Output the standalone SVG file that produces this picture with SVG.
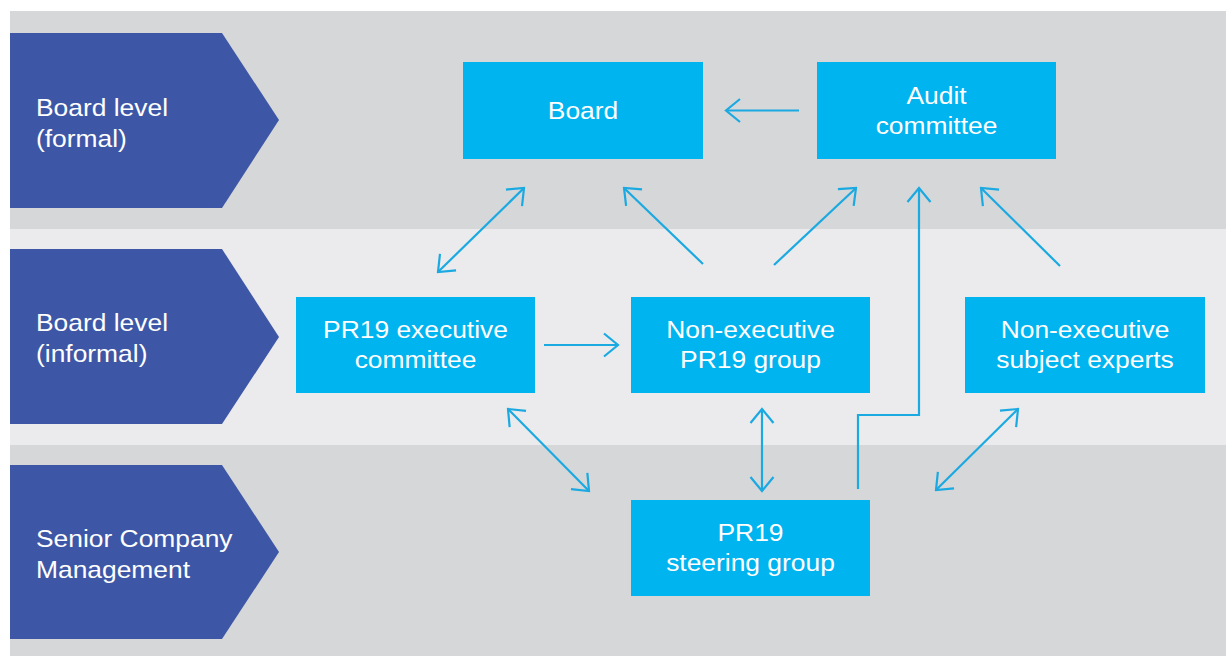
<svg xmlns="http://www.w3.org/2000/svg" width="1226" height="656" viewBox="0 0 1226 656">
<style>
.band1{fill:#d6d7d9}
.band2{fill:#ebebed}
.chev{fill:#3d57a6}
.box{fill:#00b4ef}
.lbl{font-family:"Liberation Sans",Arial,sans-serif;font-size:24px;fill:#ffffff}
.c{text-anchor:middle}
.conn{fill:none;stroke:#1aa9e1;stroke-width:2.2;stroke-linejoin:miter}
</style>
<defs>
<marker id="ah" viewBox="0 0 17 26" refX="15" refY="13" markerWidth="17" markerHeight="26" markerUnits="userSpaceOnUse" orient="auto-start-reverse">
<path d="M1,1.5 L15,13 L1,24.5" fill="none" stroke="#1aa9e1" stroke-width="2.2"/>
</marker>
</defs>
<rect width="1226" height="656" fill="#ffffff"/>
<rect class="band1" x="10" y="11" width="1216" height="218"/>
<rect class="band2" x="10" y="229" width="1216" height="216"/>
<rect class="band1" x="10" y="445" width="1216" height="211"/>

<g id="lane-formal">
<polygon class="chev" points="10,33 222,33 279,120 222,208 10,208"/>
<text class="lbl" transform="translate(36,116) scale(1.1,1)"><tspan x="0" y="0">Board level</tspan><tspan x="0" y="31">(formal)</tspan></text>
</g>
<g id="lane-informal">
<polygon class="chev" points="10,249 222,249 279,337 222,424 10,424"/>
<text class="lbl" transform="translate(36,331) scale(1.1,1)"><tspan x="0" y="0">Board level</tspan><tspan x="0" y="31">(informal)</tspan></text>
</g>
<g id="lane-senior">
<polygon class="chev" points="10,465 222,465 279,552 222,639 10,639"/>
<text class="lbl" transform="translate(36,547) scale(1.1,1)"><tspan x="0" y="0">Senior Company</tspan><tspan x="0" y="31">Management</tspan></text>
</g>

<g id="board">
<rect class="box" x="463" y="62" width="240" height="97"/>
<text class="lbl c" transform="translate(583,119) scale(1.1,1)">Board</text>
</g>
<g id="audit">
<rect class="box" x="817" y="62" width="239" height="97"/>
<text class="lbl c" transform="translate(936.5,104) scale(1.1,1)"><tspan x="0" y="0">Audit</tspan><tspan x="0" y="30">committee</tspan></text>
</g>
<g id="exec">
<rect class="box" x="296" y="297" width="239" height="96"/>
<text class="lbl c" transform="translate(415.5,338) scale(1.1,1)"><tspan x="0" y="0">PR19 executive</tspan><tspan x="0" y="30">committee</tspan></text>
</g>
<g id="nonexec-group">
<rect class="box" x="631" y="297" width="239" height="96"/>
<text class="lbl c" transform="translate(750.5,338) scale(1.1,1)"><tspan x="0" y="0">Non-executive</tspan><tspan x="0" y="30">PR19 group</tspan></text>
</g>
<g id="experts">
<rect class="box" x="965" y="297" width="240" height="96"/>
<text class="lbl c" transform="translate(1085,338) scale(1.1,1)"><tspan x="0" y="0">Non-executive</tspan><tspan x="0" y="30">subject experts</tspan></text>
</g>
<g id="steering">
<rect class="box" x="631" y="500" width="239" height="96"/>
<text class="lbl c" transform="translate(750.5,541) scale(1.1,1)"><tspan x="0" y="0">PR19</tspan><tspan x="0" y="30">steering group</tspan></text>
</g>

<g id="connectors">
<path class="conn" d="M799,110.5 L726,110.5" marker-end="url(#ah)"/>
<path class="conn" d="M438,272 L524,188" marker-start="url(#ah)" marker-end="url(#ah)"/>
<path class="conn" d="M703,264 L624,188" marker-end="url(#ah)"/>
<path class="conn" d="M774,265 L856,188" marker-end="url(#ah)"/>
<path class="conn" d="M858,489 L858,415 L919,415 L919,188" marker-end="url(#ah)"/>
<path class="conn" d="M1060,266 L981,188" marker-end="url(#ah)"/>
<path class="conn" d="M544,345 L618,345" marker-end="url(#ah)"/>
<path class="conn" d="M508,409 L589,491" marker-start="url(#ah)" marker-end="url(#ah)"/>
<path class="conn" d="M762,409 L762,491" marker-start="url(#ah)" marker-end="url(#ah)"/>
<path class="conn" d="M1018,409 L936,490" marker-start="url(#ah)" marker-end="url(#ah)"/>
</g>
</svg>
